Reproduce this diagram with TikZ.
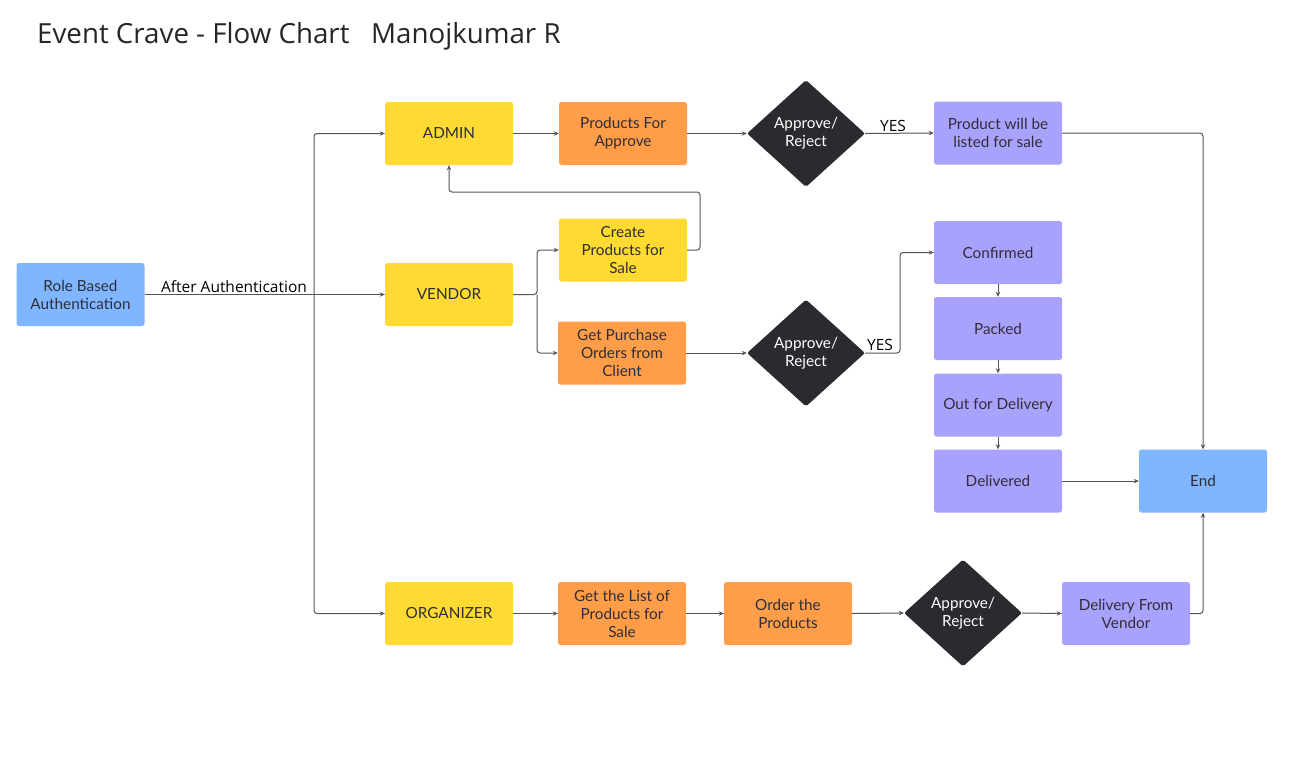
\documentclass[tikz,border=0pt]{standalone}
\usepackage{fontspec}
\setmainfont{Lato}
\newfontfamily\opensans{Open Sans}
\usetikzlibrary{shapes.geometric,arrows.meta}
\definecolor{cyellow}{HTML}{FFDA32}
\definecolor{corange}{HTML}{FF9D48}
\definecolor{cpurple}{HTML}{A9A2FD}
\definecolor{cblue}{HTML}{80B6FF}
\definecolor{cdark}{HTML}{2A2B2F}
\definecolor{cline}{HTML}{555555}
\definecolor{ctext}{HTML}{2E2E38}
\tikzset{
  box/.style={rectangle, rounded corners=2.5pt, minimum width=128pt, minimum height=63pt,
    inner sep=2pt, align=center, text=ctext, font=\fontsize{15.3}{18}\selectfont},
  ybox/.style={box, fill=cyellow},
  obox/.style={box, fill=corange},
  pbox/.style={box, fill=cpurple},
  bbox/.style={box, fill=cblue},
  dec/.style={diamond, fill=cdark, text=white, inner sep=0pt, minimum width=118pt,
    minimum height=107pt, align=center, rounded corners=2pt, font=\fontsize{15.3}{18}\selectfont},
  arr/.style={draw=cline, line width=1pt, rounded corners=3pt,
    -{Stealth[length=5pt,width=4.5pt]}},
  lbl/.style={font=\opensans\fontsize{15.5}{17}\selectfont, text=black, inner sep=1pt},
}
\begin{document}
\begin{tikzpicture}[x=1pt,y=-1pt]
\useasboundingbox[fill=white] (0,0) rectangle (1297,782);
\node[anchor=base west, font=\opensans\fontsize{27.7}{30}\selectfont, text=black!85, inner sep=0pt] (title) at (37,43) {Event Crave - Flow Chart\ \ \ Manojkumar R};

\node[bbox] (role) at (80.5,294.5) {Role Based\\Authentication};
\node[ybox] (admin) at (449,133.5) {ADMIN};
\node[ybox] (vendor) at (449,294.5) {VENDOR};
\node[ybox] (org) at (449,613.5) {ORGANIZER};
\node[obox] (pfa) at (623,133.5) {Products For\\Approve};
\node[ybox] (create) at (623,250) {Create\\Products for\\Sale};
\node[obox] (gpo) at (622,353) {Get Purchase\\Orders from\\Client};
\node[dec] (d1) at (806,133.5) {Approve/\\Reject};
\node[dec] (d2) at (806,353) {Approve/\\Reject};
\node[dec] (d3) at (963,613) {Approve/\\Reject};
\node[pbox] (listed) at (998,133) {Product will be\\listed for sale};
\node[pbox] (conf) at (998,252.5) {Confirmed};
\node[pbox] (packed) at (998,328.5) {Packed};
\node[pbox] (ofd) at (998,405) {Out for Delivery};
\node[pbox] (deliv) at (998,481) {Delivered};
\node[bbox] (end) at (1203,481) {End};
\node[obox] (gl) at (622,613.5) {Get the List of\\Products for\\Sale};
\node[obox] (otp) at (788,613.5) {Order the\\Products};
\node[pbox] (dfv) at (1126,613.5) {Delivery From\\Vendor};

\coordinate (trunk) at (314,294.5);
\coordinate (vb) at (537,294.5);
\coordinate (c1) at (700,192);
\coordinate (yb) at (900,353);

\draw[arr] (role.east) -- (vendor.west);
\draw[arr] (trunk) |- (admin.west);
\draw[arr] (trunk) |- (org.west);
\node[lbl, anchor=base] (aa) at (234,292) {After Authentication};

\draw[arr] (admin.east) -- (pfa.west);
\draw[arr] (pfa.east) -- (d1.west);
\draw[arr] (d1.east) -- (listed.west);
\node[lbl, anchor=base] (yes1) at (893,131) {YES};
\draw[arr] (listed.east) -| (end.north);

\draw[arr] (vendor.east) -- (vb) |- (create.west);
\draw[arr] (vb) |- (gpo.west);
\draw[arr] (create.east) -| (c1) -| (admin.south);
\draw[arr] (gpo.east) -- (d2.west);
\draw[arr] (d2.east) -- (yb) |- (conf.west);
\node[lbl, anchor=base] (yes2) at (880,350) {YES};
\draw[arr] (conf.south) -- (packed.north);
\draw[arr] (packed.south) -- (ofd.north);
\draw[arr] (ofd.south) -- (deliv.north);
\draw[arr] (deliv.east) -- (end.west);

\draw[arr] (org.east) -- (gl.west);
\draw[arr] (gl.east) -- (otp.west);
\draw[arr] (otp.east) -- (d3.west);
\draw[arr] (d3.east) -- (dfv.west);
\draw[arr] (dfv.east) -| (end.south);
\end{tikzpicture}
\end{document}
